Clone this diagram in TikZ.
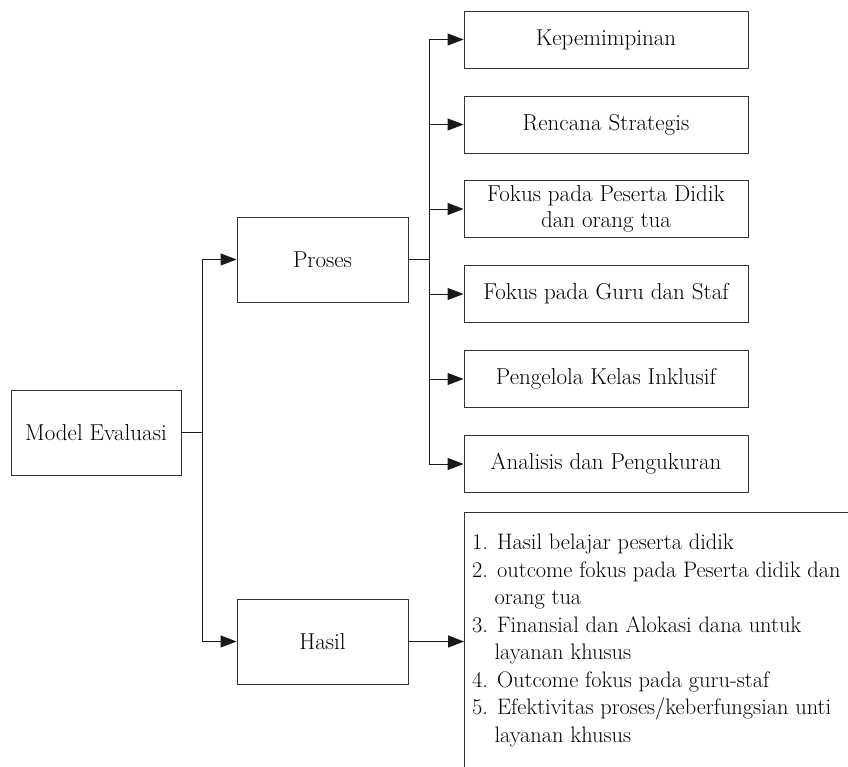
\documentclass[tikz,border=0pt]{standalone}
\usepackage{tikz}
\usetikzlibrary{arrows.meta}
\tikzset{
	box/.style={draw=black!80,line width=0.9pt,rectangle,align=center,inner sep=0pt,font=\fontsize{23}{26}\selectfont},
	itembox/.style={box,minimum width=284pt,minimum height=57pt},
	mainbox/.style={box,minimum width=171pt,minimum height=85pt},
	list/.style={align=left,inner sep=0pt,font=\fontsize{22.4}{27.5}\selectfont},
	line/.style={draw=black!90,line width=0.9pt},
	arr/.style={line,-{Triangle[length=16pt,width=12pt]}}
}

\begin{document}
\begin{tikzpicture}[x=1pt,y=-1pt]
			\clip (0,0) rectangle (848,767);
			\node[mainbox,minimum width=170pt] (model) at (96,432.5) {Model Evaluasi};
			\node[mainbox] (proses) at (322.5,259.5) {Proses};
			\node[mainbox] (hasil) at (322.5,641.5) {Hasil};
			\node[itembox] (lead) at (606,39.5) {Kepemimpinan};
			\node[itembox] (plan) at (606,124.5) {Rencana Strategis};
			\node[itembox] (pupil) at (606,209) {Fokus pada Peserta Didik\\dan orang tua};
			\node[itembox] (staff) at (606,294) {Fokus pada Guru dan Staf};
			\node[itembox] (klas) at (606,379) {Pengelola Kelas Inklusif};
			\node[itembox] (ukur) at (606,464) {Analisis dan Pengukuran};
			\node[box,minimum width=396pt,minimum height=260pt,anchor=north west] (outcome) at (464,512) {};
			\node[list,anchor=north west] (items) at (472,534) {1. Hasil belajar peserta didik\\
				2. outcome fokus pada Peserta didik dan\\
				\hspace*{1em}orang tua\\
				3. Finansial dan Alokasi dana untuk\\
				\hspace*{1em}layanan khusus\\
				4. Outcome fokus pada guru-staf\\
				5. Efektivitas proses/keberfungsian unti\\
				\hspace*{1em}layanan khusus};
			\coordinate (mj) at (202,432.5);
			\coordinate (pj) at (429,259.5);
			
			\draw[line] (model) -- (mj);
			\draw[arr] (mj) |- (proses);
			\draw[arr] (mj) |- (hasil);
			\draw[line] (proses) -- (pj);
			\foreach \n in {lead,plan,pupil,staff,klas,ukur}
				\draw[arr] (pj) |- (\n);
			\draw[arr] (hasil) -- (hasil -| outcome.west);
		\end{tikzpicture}
\end{document}
